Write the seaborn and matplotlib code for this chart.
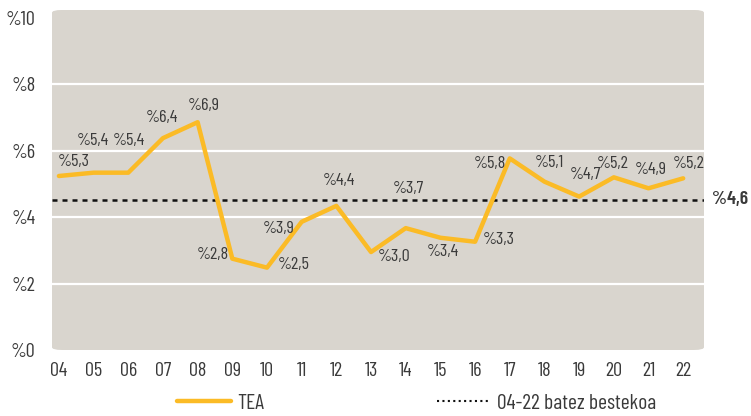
import matplotlib.pyplot as plt
import seaborn as sns
import pandas as pd
from matplotlib.patches import FancyBboxPatch
from matplotlib.lines import Line2D
from matplotlib import font_manager

years = ["04", "05", "06", "07", "08", "09", "10", "11", "12", "13",
         "14", "15", "16", "17", "18", "19", "20", "21", "22"]
tea = [5.24, 5.34, 5.34, 6.38, 6.86, 2.75, 2.48, 3.86, 4.34, 2.95,
       3.67, 3.38, 3.26, 5.77, 5.07, 4.62, 5.20, 4.87, 5.17]
tea_labels = ["%5,3", "%5,4", "%5,4", "%6,4", "%6,9", "%2,8", "%2,5", "%3,9", "%4,4", "%3,0",
              "%3,7", "%3,4", "%3,3", "%5,8", "%5,1", "%4,7", "%5,2", "%4,9", "%5,2"]
average = 4.52
average_label = "%4,6"
y_ticks = [0, 2, 4, 6, 8, 10]

# label offsets in pixels (dx, dy), picked by eye
offsets = [(15, 14), (-1, 32), (1, 32), (-1, 21), (6, 17), (-19, 4), (27, 3),
           (-23, -7), (3, 25), (23, -4), (3, 40), (2, -14), (24, 2), (-20, -5),
           (5, 19), (6, 22), (-1, 14), (2, 19), (6, 15)]

# narrow font if one is around
names = {f.name for f in font_manager.fontManager.ttflist}
wanted = ["Barlow Condensed", "Roboto Condensed", "Saira Condensed", "Encode Sans Condensed",
          "Archivo Narrow", "PT Sans Narrow", "Liberation Sans Narrow", "Oswald"]
narrow = next((f for f in wanted if f in names), "DejaVu Sans")

sns.set_theme(style="white")
plt.rcParams['font.family'] = [narrow, 'DejaVu Sans']

text_col = "#3a3a3a"
yellow = "#FBBB26"
panel_col = "#D9D5CE"

df = pd.DataFrame({"x": range(len(years)), "tea": tea})

fig = plt.figure(figsize=(7.51, 4.16), dpi=100)
ax = fig.add_axes([0.0692, 0.1587, 0.8682, 0.8173])
ax.patch.set_visible(False)
ax.add_patch(FancyBboxPatch((0, 0), 1, 1, boxstyle="round,pad=0,rounding_size=0.015",
                            transform=ax.transAxes, facecolor=panel_col,
                            edgecolor="none", zorder=0, mutation_aspect=0.55))

for t in y_ticks[1:-1]:
    ax.axhline(t, color="white", lw=1.6, zorder=1)

ax.axhline(average, color="#111111", lw=1.8, ls=(0, (2, 2)), zorder=2)
sns.lineplot(data=df, x="x", y="tea", ax=ax, color=yellow, lw=3.2, zorder=3,
             legend=False)

for i, (v, lab) in enumerate(zip(tea, tea_labels)):
    dx, dy = offsets[i]
    ax.annotate(lab, (i, v), xytext=(dx, dy), textcoords="offset pixels",
                ha="center", va="center", fontsize=13, color=text_col)

ax.text(1.012, average, average_label, transform=ax.get_yaxis_transform(),
        ha="left", va="center", fontsize=14, fontweight="semibold", color=text_col)

ax.set_xlim(-0.2, 18.6)
ax.set_ylim(0, 10.24)
ax.set_xticks(range(len(years)))
ax.set_xticklabels(years)
ax.set_yticks(y_ticks)
ax.set_yticklabels([f"%{t}" for t in y_ticks])
ax.tick_params(axis="both", length=0, labelsize=14.5, colors=text_col)
ax.tick_params(axis="y", pad=12)
ax.tick_params(axis="x", pad=9)
ax.set_xlabel("")
ax.set_ylabel("")
sns.despine(ax=ax, left=True, bottom=True)

handles = [Line2D([], [], color=yellow, lw=3.2),
           Line2D([], [], color="#111111", lw=1.5, ls=(0, (1, 1.6)))]
fig.legend(handles, ["TEA", "04-22 batez bestekoa"],
           loc="center", bbox_to_anchor=(0.555, 0.031), ncol=2, frameon=False,
           fontsize=15.5, handlelength=2.5, handletextpad=0.3, columnspacing=8.0,
           labelcolor=text_col)

fig.savefig("out.png", dpi=100)
